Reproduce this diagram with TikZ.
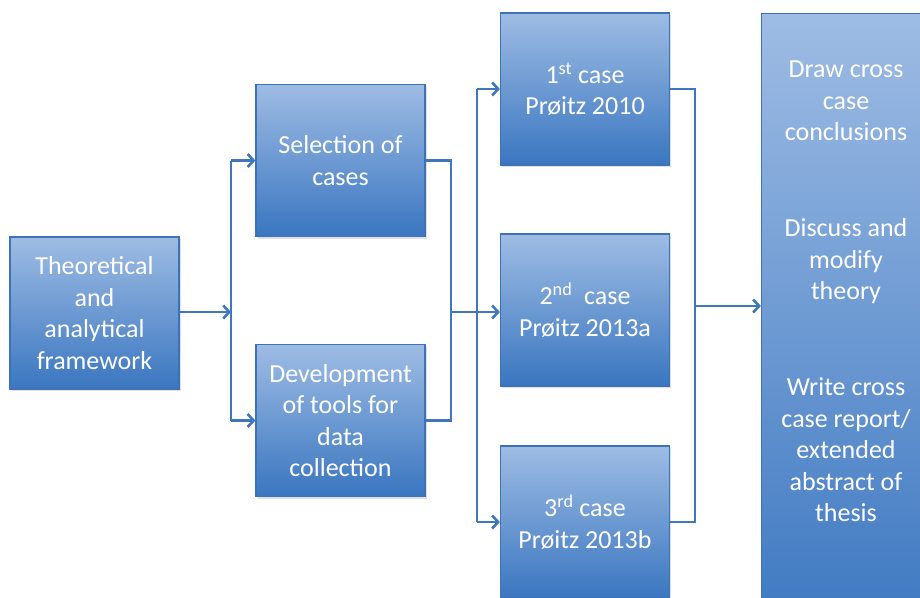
\documentclass[tikz,border=0pt]{standalone}
\usepackage{fontspec}
\setmainfont{Carlito}
\usetikzlibrary{arrows.meta,shadows,calc}
\definecolor{boxtop}{RGB}{158,188,228}
\definecolor{boxbot}{RGB}{58,118,192}
\definecolor{boxline}{RGB}{62,114,182}
\definecolor{connline}{RGB}{64,118,188}
\tikzset{
  blockbox/.style={rectangle, draw=boxline, line width=1.2pt, top color=boxtop, bottom color=boxbot,
    minimum width=169pt, minimum height=152pt, inner sep=0pt, align=center, text=white,
    font=\fontsize{26}{31.5}\selectfont,
    drop shadow={opacity=0.25, shadow xshift=1.5pt, shadow yshift=-2pt}},
  conn/.style={draw=connline, line width=2.6pt},
  arr/.style={conn, -{Straight Barb[length=6pt,width=13pt]}},
}
\begin{document}
\begin{tikzpicture}[x=1pt,y=-1pt]
\useasboundingbox (0,0) rectangle (920,597);
\fill[white] (0,0) rectangle (920,597);
\node[blockbox] (t) at (94.5,313) {Theoretical\\and\\analytical\\framework};
\node[blockbox] (sel) at (340.5,160.5) {Selection of\\cases};
\node[blockbox] (dev) at (340.5,420.5) {Development\\of tools for\\data\\collection};
\node[blockbox] (c1) at (585,89) {1\textsuperscript{st} case\\Prøitz 2010};
\node[blockbox] (c2) at (585,310) {2\textsuperscript{nd}\ \ case\\Prøitz 2013a};
\node[blockbox] (c3) at (585,522) {3\textsuperscript{rd} case\\Prøitz 2013b};
\node[blockbox, minimum height=640pt, anchor=north] (r) at (846,13) {};
\node[text=white, align=center, anchor=north, font=\fontsize{26}{31.5}\selectfont, inner sep=0pt] (rtext) at (846,61)
  {Draw cross\\case\\conclusions\\[64.5pt]Discuss and\\modify\\theory\\[64.5pt]Write cross\\case report/\\extended\\abstract of\\thesis};
\coordinate (a) at (231,312);
\coordinate (b) at (451,312);
\coordinate (cc) at (477,312);
\coordinate (d) at (695,306);
\draw[arr] (t.east |- a) -- (a);
\draw[conn] (a |- sel.west) -- (a |- dev.west);
\draw[arr] (a |- sel.west) -- (sel.west);
\draw[arr] (a |- dev.west) -- (dev.west);
\draw[conn] (sel.east) -| (b) |- (dev.east);
\draw[arr] (b) -- (c2.west |- b);
\draw[conn] (cc |- c1.west) -- (cc |- c3.west);
\draw[arr] (cc |- c1.west) -- (c1.west);
\draw[arr] (cc |- c3.west) -- (c3.west);
\draw[conn] (c1.east) -| (d) |- (c3.east);
\draw[arr] (d) -- (r.west |- d);
\end{tikzpicture}
\end{document}
